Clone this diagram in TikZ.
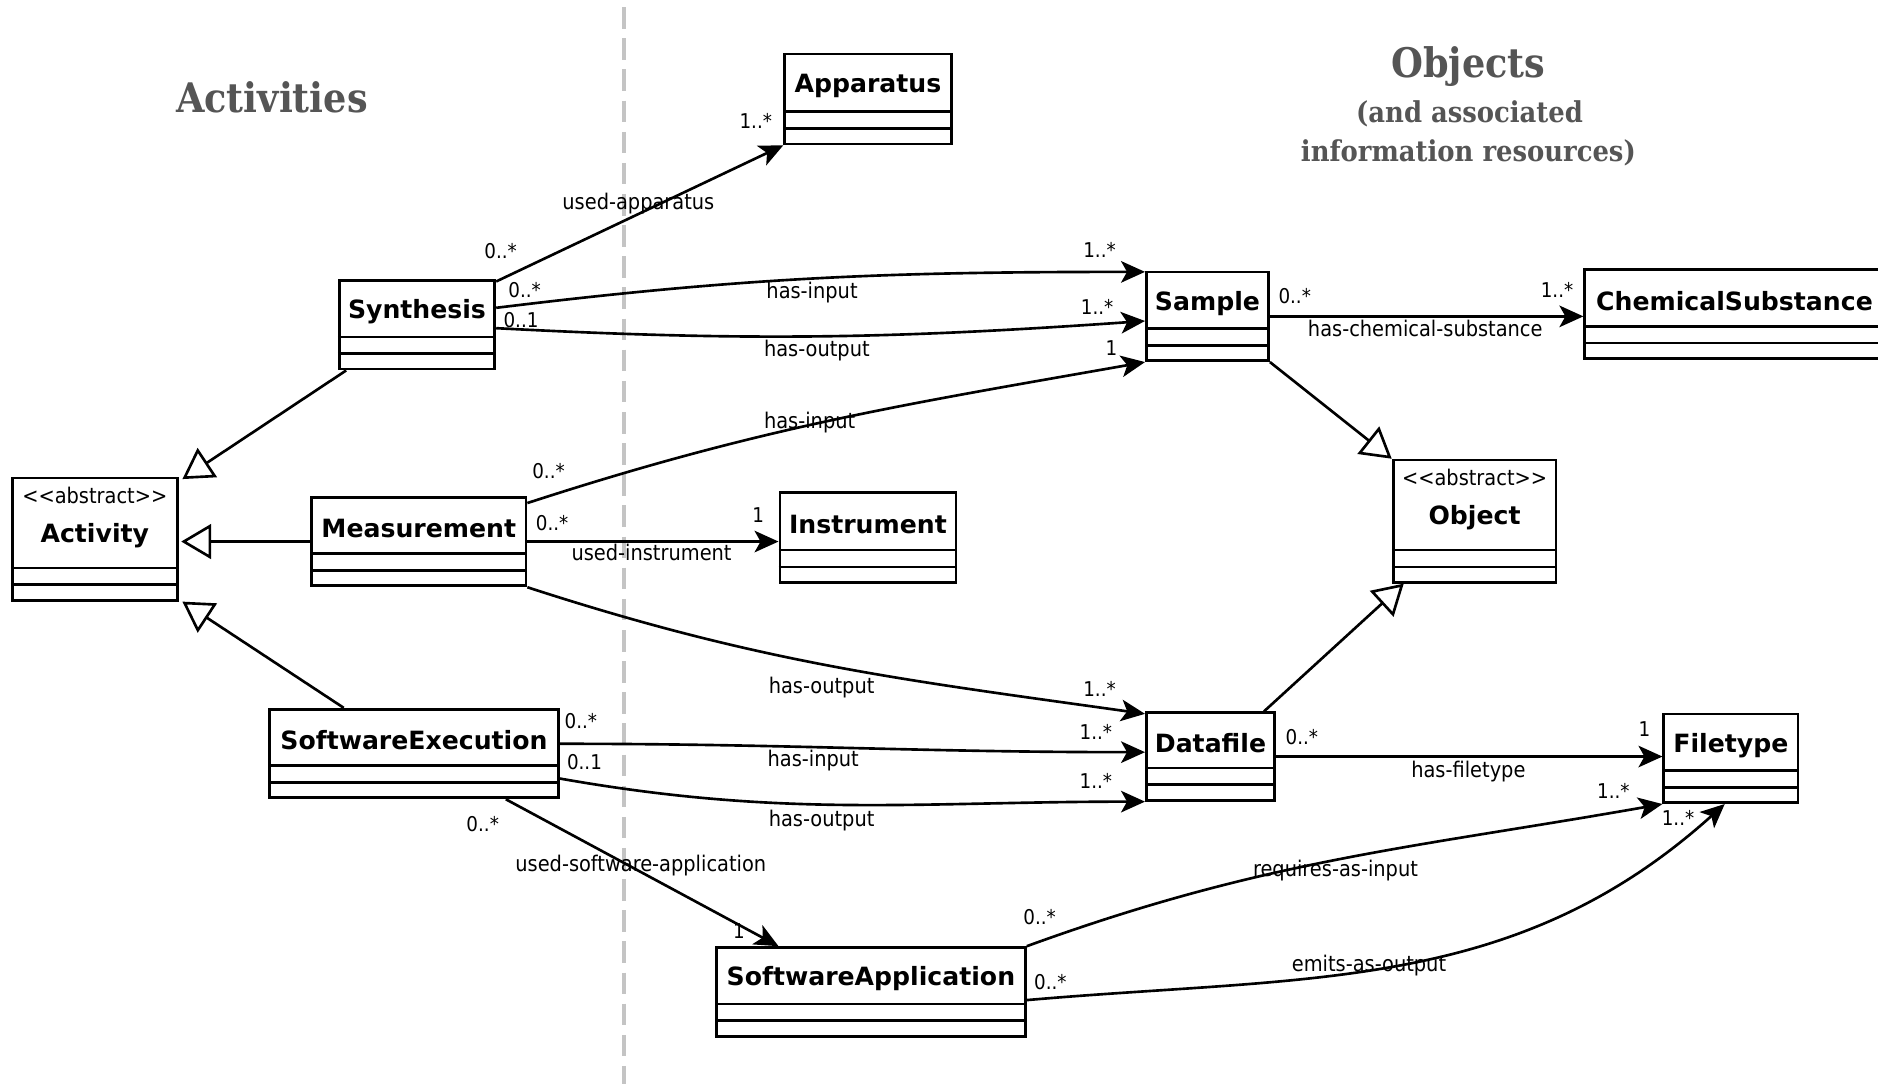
\documentclass[tikz,border=0pt]{standalone}
\usepackage{fontspec}
\setmainfont{DejaVu Sans}
\newfontfamily\lblfont{DejaVu Sans Condensed}
\newfontfamily\ttlfont{DejaVu Serif Condensed}
\usetikzlibrary{arrows.meta,calc}
\definecolor{ttlgray}{HTML}{555555}
\definecolor{divgray}{HTML}{C4C4C4}

\tikzset{
  cls/.style={draw, line width=2.3pt, rectangle, anchor=north west, inner sep=0pt},
  cmp/.style={line width=2.3pt},
  clsname/.style={font=\fontsize{21}{25}\selectfont\bfseries, inner sep=0pt},
  stereo/.style={font=\lblfont\fontsize{18}{22}\selectfont, inner sep=0pt},
  rel/.style={line width=2.2pt, -{Stealth[length=20pt,width=18pt,inset=5pt]}},
  gen/.style={line width=2.2pt, -{Triangle[open,length=25pt,width=29pt,fill=white]}},
  lbl/.style={font=\lblfont\fontsize{18}{22}\selectfont, inner sep=0pt},
  mult/.style={font=\lblfont\fontsize{17}{20}\selectfont, inner sep=0pt},
  ttl/.style={font=\ttlfont\bfseries\fontsize{34}{40}\selectfont, text=ttlgray, inner sep=0pt, anchor=base},
  subttl/.style={font=\ttlfont\bfseries\fontsize{24}{30}\selectfont, text=ttlgray, inner sep=0pt, anchor=base},
}

% class box: id, x, y (top left), width, height, name
\newcommand\umlclass[6]{%
  \node[cls, minimum width=#4pt, minimum height=#5pt] (#1) at (#2,#3) {};
  \draw[cmp] ([yshift=14pt]#1.south west) -- ([yshift=14pt]#1.south east);
  \draw[cmp] ([yshift=28pt]#1.south west) -- ([yshift=28pt]#1.south east);
  \node[clsname, yshift=-3pt] (#1-name) at ($(#1.north)!0.5!([yshift=28pt]#1.south)$) {#6};
}
% abstract class box with stereotype
\newcommand\umlabstract[6]{%
  \node[cls, minimum width=#4pt, minimum height=#5pt] (#1) at (#2,#3) {};
  \draw[cmp] ([yshift=14pt]#1.south west) -- ([yshift=14pt]#1.south east);
  \draw[cmp] ([yshift=28pt]#1.south west) -- ([yshift=28pt]#1.south east);
  \node[stereo] (#1-st) at ([yshift=-16pt]#1.north) {<<abstract>>};
  \node[clsname] (#1-name) at ([yshift=-49pt]#1.north) {#6};
}

\begin{document}
\begin{tikzpicture}[x=1pt,y=-1pt]
  \fill[white] (0,0) rectangle (1568,905);
  \useasboundingbox (0,0) rectangle (1568,905);

  % divider between activities and objects
  \coordinate (divtop) at (521,6);
  \coordinate (divbot) at (521,910);
  \draw[divgray, line width=4pt, dash pattern=on 18pt off 8pt] (divtop) -- (divbot);

  % headings
  \node[ttl] (tact) at (227,94) {Activities};
  \node[ttl] (tobj) at (1226,65) {Objects};
  \node[subttl] (tsub1) at (1227,102) {(and associated};
  \node[subttl] (tsub2) at (1226,135) {information resources)};

  % classes
  \umlclass{app}{654}{44}{139}{75}{Apparatus}
  \umlclass{syn}{282}{233}{130}{74}{Synthesis}
  \umlclass{sam}{956}{226}{102}{74}{Sample}
  \umlclass{chem}{1322}{224}{250}{74}{ChemicalSubstance}
  \umlabstract{act}{9}{398}{138}{102}{Activity}
  \umlclass{mea}{259}{414}{179}{74}{Measurement}
  \umlclass{ins}{650}{410}{147}{75}{Instrument}
  \umlabstract{obj}{1162}{383}{136}{102}{Object}
  \umlclass{se}{224}{591}{241}{74}{SoftwareExecution}
  \umlclass{df}{956}{594}{107}{73}{Datafile}
  \umlclass{ft}{1388}{595}{112}{74}{Filetype}
  \umlclass{sa}{597}{790}{258}{74}{SoftwareApplication}

  % generalizations
  \draw[gen] ([xshift=7pt]syn.south west) -- ([xshift=3pt,yshift=-2pt]act.north east);
  \draw[gen] (mea.west) -- ([xshift=2pt]mea.west -| act.east);
  \draw[gen] ([xshift=63pt]se.north west) -- ([xshift=3pt]act.south east);
  \draw[gen] (sam.south east) -- (obj.north west);
  \draw[gen] ([xshift=-10pt]df.north east) -- ([xshift=10pt]obj.south west);

  % associations
  \draw[rel] ([yshift=-2pt]syn.north east) -- (app.south west);
  \draw[rel] ([yshift=-24pt]syn.north east) to[out=7,in=180] ([yshift=-1pt]sam.north west);
  \draw[rel] ([yshift=-41pt]syn.north east) to[out=-3,in=184] ([yshift=-42pt]sam.north west);
  \draw[rel] ([yshift=-6pt]mea.north east) to[out=18,in=190] (sam.south west);
  \draw[rel] (mea.east) -- (mea.east -| ins.west);
  \draw[rel] (mea.south east) to[out=-18,in=172] ([yshift=-2pt]df.north west);
  \draw[rel] ([yshift=-30pt]se.north east) to[out=0,in=180] ([yshift=-34pt]df.north west);
  \draw[rel] ([yshift=-59pt]se.north east) to[out=-10,in=180] (df.south west);
  \draw[rel] ([xshift=-45pt]se.south east) -- ([xshift=53pt]sa.north west);
  \draw[rel] (sam.east) -- (sam.east -| chem.west);
  \draw[rel] (df.east) -- (df.east -| ft.west);
  \draw[rel] (sa.north east) to[out=20,in=190] (ft.south west);
  \draw[rel] ([yshift=-45pt]sa.north east) to[out=5,in=222] ([xshift=52pt]ft.south west);

  % association names
  \node[lbl] (l1) at (533,170) {used-apparatus};
  \node[lbl] (l2) at (678,244) {has-input};
  \node[lbl] (l3) at (682,293) {has-output};
  \node[lbl] (l4) at (676,353) {has-input};
  \node[lbl] (l5) at (544,461) {used-instrument};
  \node[lbl] (l6) at (686,574) {has-output};
  \node[lbl] (l7) at (679,635) {has-input};
  \node[lbl] (l8) at (686,685) {has-output};
  \node[lbl] (l9) at (535,723) {used-software-application};
  \node[lbl] (l10) at (1190,274) {has-chemical-substance};
  \node[lbl] (l11) at (1226,644) {has-filetype};
  \node[lbl] (l12) at (1115,727) {requires-as-input};
  \node[lbl] (l13) at (1143,806) {emits-as-output};

  % multiplicities
  \node[mult] (m1a) at (418,210) {0..*};
  \node[mult] (m1b) at (631,101) {1..*};
  \node[mult] (m2a) at (438,242) {0..*};
  \node[mult] (m2b) at (918,209) {1..*};
  \node[mult] (m3a) at (435,267) {0..1};
  \node[mult] (m3b) at (916,256) {1..*};
  \node[mult] (m4a) at (458,393) {0..*};
  \node[mult] (m4b) at (928,291) {1};
  \node[mult] (m5a) at (461,437) {0..*};
  \node[mult] (m5b) at (633,430) {1};
  \node[mult] (m6b) at (918,575) {1..*};
  \node[mult] (m7a) at (485,602) {0..*};
  \node[mult] (m7b) at (915,611) {1..*};
  \node[mult] (m8a) at (488,636) {0..1};
  \node[mult] (m8b) at (915,652) {1..*};
  \node[mult] (m9a) at (403,688) {0..*};
  \node[mult] (m9b) at (617,777) {1};
  \node[mult] (m10a) at (1081,247) {0..*};
  \node[mult] (m10b) at (1300,242) {1..*};
  \node[mult] (m11a) at (1087,615) {0..*};
  \node[mult] (m11b) at (1373,609) {1};
  \node[mult] (m12a) at (868,766) {0..*};
  \node[mult] (m12b) at (1347,660) {1..*};
  \node[mult] (m13a) at (877,820) {0..*};
  \node[mult] (m13b) at (1401,683) {1..*};
\end{tikzpicture}
\end{document}
